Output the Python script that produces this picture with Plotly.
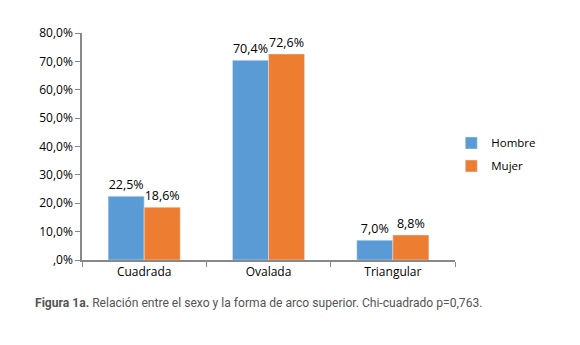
import plotly.graph_objects as go

categories = ["Cuadrada", "Ovalada", "Triangular"]
hombre = [22.5, 70.4, 7.0]
mujer = [18.6, 72.6, 8.8]
tick_vals = [0, 10, 20, 30, 40, 50, 60, 70, 80]
tick_text = [",0%", "10,0%", "20,0%", "30,0%", "40,0%", "50,0%", "60,0%", "70,0%", "80,0%"]

def fmt(v):
    return f"{v:.1f}".replace(".", ",") + "%"

font_main = "Open Sans, Noto Sans, sans-serif"

fig = go.Figure()
fig.add_trace(go.Bar(name="Hombre", x=categories, y=hombre, marker_color="#5B9BD5",
                     legendgroup="h",
                     text=[fmt(v) for v in hombre], textposition="outside", cliponaxis=False,
                     textfont=dict(size=12.5, color="#000000")))
fig.add_trace(go.Bar(name="Mujer", x=categories, y=mujer, marker_color="#ED7D31",
                     legendgroup="m",
                     text=[fmt(v) for v in mujer], textposition="outside", cliponaxis=False,
                     textfont=dict(size=12.5, color="#000000")))

fig.update_layout(
    width=572, height=337,
    margin=dict(l=74, r=125, t=25, b=85),
    plot_bgcolor="white", paper_bgcolor="white",
    barmode="group", bargap=0.42, bargroupgap=0,
    font=dict(family=font_main, size=12, color="#000000"),
    legend=dict(x=0.99, y=0.465, xanchor="left", yanchor="middle",
                font=dict(size=11.5), itemwidth=30, tracegroupgap=4),
    xaxis=dict(showline=True, linecolor="#888888", linewidth=1.5,
               ticks="outside", tickson="boundaries", ticklen=5, tickcolor="#888888",
               tickfont=dict(size=12)),
    yaxis=dict(range=[0, 80], tickvals=tick_vals, ticktext=tick_text,
               showline=True, linecolor="#888888", linewidth=1.5,
               ticks="outside", ticklen=5, tickcolor="#888888",
               showgrid=False, zeroline=False, tickfont=dict(size=12)),
    annotations=[dict(
        xref="paper", yref="paper", x=-0.131, y=-0.19, xanchor="left", yanchor="middle",
        showarrow=False,
        text="<b>Figura 1a.</b> Relación entre el sexo y la forma de arco superior. Chi-cuadrado p=0,763.",
        font=dict(family="Roboto, sans-serif", size=12.1, color="#555555"))]
)

fig.write_html("out.html")
